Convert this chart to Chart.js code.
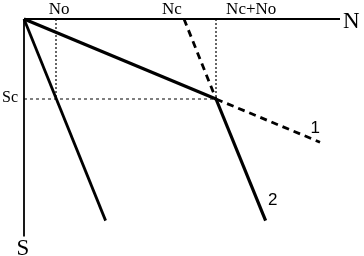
<!DOCTYPE html>
<html>
<head>
<meta charset="utf-8">
<script src="https://cdn.jsdelivr.net/npm/chart.js@4"></script>
<style>
html,body{margin:0;padding:0;background:#fff;}
#wrap{width:364px;height:256px;}
</style>
</head>
<body>
<div id="wrap"><canvas id="c" width="364" height="256"></canvas></div>
<script>
// Quantities (data units)
const No = 2;
const Nc = 10;
const Sc = 5;
const NcNo = Nc + No;
// Axes extents
const nAxisEnd = [{x:0,y:0},{x:19.75,y:0}];
const sAxisEnd = [{x:0,y:0},{x:0,y:13.6}];
// Curves
const lineOrigin = [{x:0,y:0},{x:5.1,y:12.6}];
const line1Solid = [{x:0,y:0},{x:NcNo,y:Sc}];
const line1Dashed = [{x:NcNo,y:Sc},{x:18.5,y:7.7}];
const line2Solid = [{x:NcNo,y:Sc},{x:15.1,y:12.6}];
const line2Dashed = [{x:Nc,y:0},{x:NcNo,y:Sc}];
// Guides
const guideNo = [{x:No,y:0},{x:No,y:Sc}];
const guideSc = [{x:0,y:Sc},{x:NcNo,y:Sc}];
const guideNcNo = [{x:NcNo,y:0},{x:NcNo,y:Sc}];
// Text labels
const topLabels = ['No','Nc','Nc+No'];
const topLabelX = [2.2, 9.25, 14.2];
const curveLabels = ['1','2'];
const curveLabelPos = [{x:18.2,y:7.1},{x:15.55,y:11.6}];

function ds(data, width, dash){
  return {data, showLine:true, pointRadius:0, borderColor:'#000', backgroundColor:'#000',
          borderWidth:width, borderDash:dash||[], fill:false, tension:0, clip:false};
}

const labelPlugin = {
  id:'labels',
  afterDatasetsDraw(chart){
    const c = chart.ctx, xs = chart.scales.x, ys = chart.scales.y;
    c.save();
    c.fillStyle = '#000';
    c.textAlign = 'center';
    c.textBaseline = 'alphabetic';
    c.font = '17px "Liberation Serif"';
    topLabels.forEach((t,i)=>{
      c.fillText(t, xs.getPixelForValue(topLabelX[i]), ys.getPixelForValue(0) - 5);
    });
    c.textAlign = 'left';
    c.font = '23px "Liberation Serif"';
    c.fillText('N', xs.getPixelForValue(nAxisEnd[1].x) + 3, ys.getPixelForValue(0) + 9);
    c.textAlign = 'center';
    c.fillText('S', xs.getPixelForValue(0) - 1, ys.getPixelForValue(sAxisEnd[1].y) + 18);
    c.textAlign = 'left';
    c.font = '16px "Liberation Serif"';
    c.fillText('Sc', 2, ys.getPixelForValue(Sc) + 3);
    c.textAlign = 'center';
    c.font = '17px "Liberation Sans"';
    curveLabels.forEach((t,i)=>{
      c.fillText(t, xs.getPixelForValue(curveLabelPos[i].x), ys.getPixelForValue(curveLabelPos[i].y));
    });
    c.restore();
  }
};

new Chart(document.getElementById('c'), {
  type:'scatter',
  data:{datasets:[
    ds(guideNo,1.2,[2,2]),
    ds(guideSc,1.2,[3,3]),
    ds(guideNcNo,1.2,[2,2]),
    ds(nAxisEnd,2.2),
    ds(sAxisEnd,1.8),
    ds(lineOrigin,2.8),
    ds(line1Solid,3.2),
    ds(line1Dashed,2.8,[7,5]),
    ds(line2Solid,3.2),
    ds(line2Dashed,2.8,[7,5])
  ]},
  options:{
    responsive:false, animation:false, devicePixelRatio:1,
    layout:{padding:{left:0,top:0,right:4,bottom:5}},
    plugins:{legend:{display:false}, tooltip:{enabled:false}},
    scales:{
      x:{type:'linear', min:-1.5, max:21, display:false},
      y:{type:'linear', min:-1.1875, max:14.5, reverse:true, display:false}
    }
  },
  plugins:[labelPlugin]
});
</script>
</body>
</html>
